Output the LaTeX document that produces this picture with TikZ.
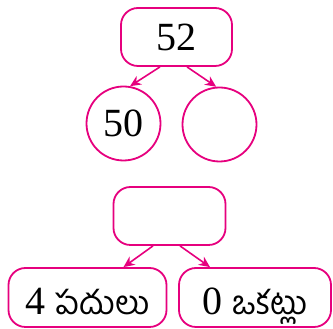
\documentclass[tikz,border=0pt]{standalone}
\usepackage{fontspec}
\setmainfont{Liberation Serif}
\newfontfamily\telugu[Script=Telugu]{Hind Guntur}
\usetikzlibrary{arrows.meta}
\definecolor{rosepink}{RGB}{230,0,126}
\begin{document}
\begin{tikzpicture}[x=1pt,y=1pt,
    every node/.style={font=\fontsize{40}{42}\selectfont},
    part/.style={draw=rosepink,line width=1.8pt,rounded corners=17pt,inner sep=0pt},
    ball/.style={draw=rosepink,line width=1.8pt,circle,minimum size=74pt,inner sep=0pt},
    place/.style={part,minimum height=59pt,text height=40pt,text depth=5pt},
    link/.style={rosepink,line width=1.6pt,-{Stealth[length=11pt,width=10pt]}}]
    \useasboundingbox (0,0) rectangle (333,329);

    % top: split of the number
    \node[part,minimum width=111pt,minimum height=58pt] (whole) at (176.5,292) {52};
    \node[ball] (tens) at (123.5,205.5) {50};
    \node[ball] (ones) at (219.5,204.5) {};
    \draw[link] ([xshift=-16.5pt]whole.south) -- (tens.80);
    \draw[link] ([xshift=10.5pt]whole.south) -- (ones.95);

    % bottom: place values
    \node[part,minimum width=112pt,minimum height=58pt] (number) at (169.5,113) {};
    \node[place,minimum width=158pt] (tensbox) at (87.5,31.5)
        {4 {\telugu\fontsize{33}{34}\selectfont పదులు}};
    \node[place,minimum width=152pt] (onesbox) at (255,31.5)
        {0 {\telugu\fontsize{33}{34}\selectfont ఒకట్లు}};
    \draw[link] ([xshift=-16.5pt]number.south) -- ([xshift=36pt]tensbox.north);
    \draw[link] ([xshift=10.5pt]number.south) -- ([xshift=-45pt]onesbox.north);
\end{tikzpicture}
\end{document}
